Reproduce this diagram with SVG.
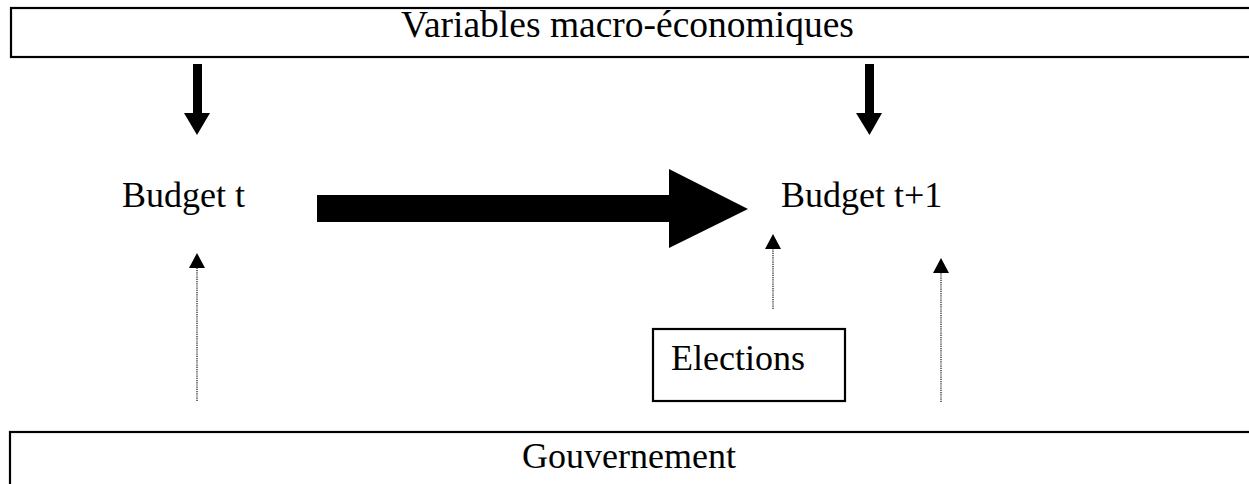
<svg xmlns="http://www.w3.org/2000/svg" width="1249" height="484" viewBox="0 0 1249 484">
  <style>
    .box { fill: #fff; stroke: #000; stroke-width: 2.2; }
    .label { font-family: "Liberation Serif", "Times New Roman", serif; font-size: 36px; fill: #000; }
    .title { font-size: 37.5px; }
    .solid { fill: #000; stroke: none; }
    .dotted { stroke: #222; stroke-width: 1.3; stroke-dasharray: 1.2 1; fill: none; }
  </style>
  <rect width="1249" height="484" fill="#fff"/>

  <g id="node-variables">
    <rect class="box" x="11" y="8" width="1250" height="49"/>
    <text class="label title" x="401" y="37">Variables macro-économiques</text>
  </g>

  <g id="node-budget-t">
    <text class="label" x="122" y="207">Budget t</text>
  </g>

  <g id="node-budget-t1">
    <text class="label" x="781" y="207">Budget t+1</text>
  </g>

  <g id="node-elections">
    <rect class="box" x="653" y="329" width="192" height="72"/>
    <text class="label" x="671" y="370">Elections</text>
  </g>

  <g id="node-gouvernement">
    <rect class="box" x="10" y="432" width="1250" height="60"/>
    <text class="label" x="522" y="468">Gouvernement</text>
  </g>

  <g id="connectors">
    <!-- macro variables feeding each budget -->
    <rect class="solid" x="193" y="64" width="9" height="50"/>
    <polygon class="solid" points="184,113 210,113 197,135"/>
    <rect class="solid" x="865" y="64" width="9" height="50"/>
    <polygon class="solid" points="856,113 882,113 869.5,135"/>

    <!-- budget t carried over to budget t+1 -->
    <polygon class="solid" points="317,195 669,195 669,169 748,209 669,248 669,222 317,222"/>

    <!-- government and elections influences (dotted) -->
    <line class="dotted" x1="197" y1="401" x2="197" y2="267"/>
    <polygon class="solid" points="189,268 205,268 197,253"/>
    <line class="dotted" x1="773" y1="309" x2="773" y2="249"/>
    <polygon class="solid" points="765,249 781,249 773,234"/>
    <line class="dotted" x1="941" y1="402" x2="941" y2="273"/>
    <polygon class="solid" points="933,273 949,273 941,258"/>
  </g>
</svg>
